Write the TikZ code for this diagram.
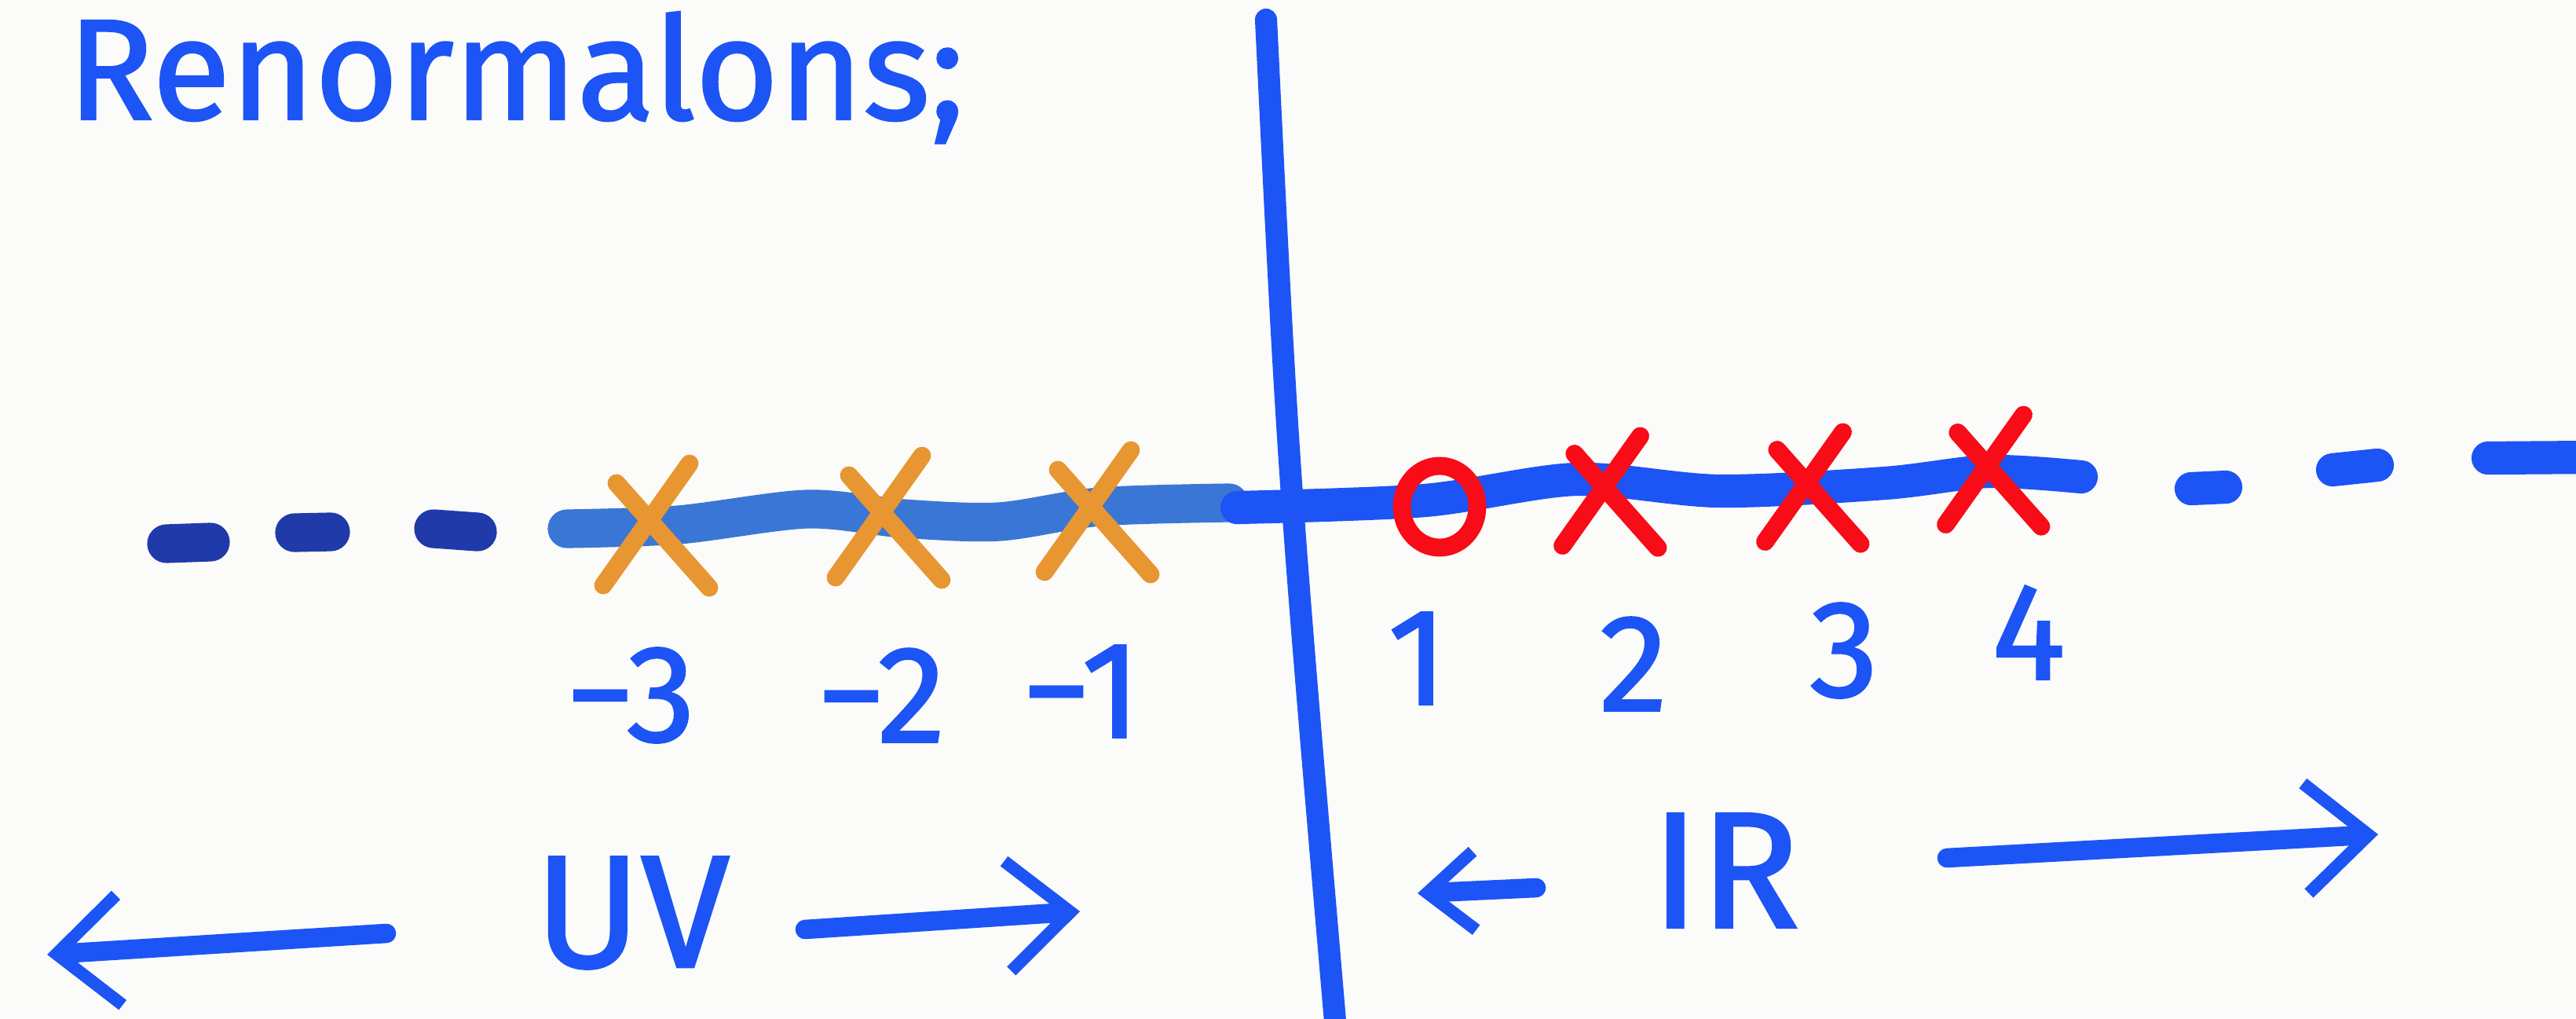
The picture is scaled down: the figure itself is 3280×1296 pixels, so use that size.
\documentclass[tikz,border=0pt]{standalone}
\usepackage{fontspec}
\setmainfont{Fira Sans}
\newfontfamily\handfont{Fira Sans}[FakeBold=1.3]
\usetikzlibrary{arrows.meta}
\definecolor{inkblue}{RGB}{28,84,245}
\definecolor{inknavy}{RGB}{32,58,170}
\definecolor{inklight}{RGB}{58,118,214}
\definecolor{inkorange}{RGB}{232,150,50}
\definecolor{inkred}{RGB}{248,12,24}
\definecolor{paper}{RGB}{251,251,249}
\tikzset{
  hand/.style={inkblue,inner sep=0pt,font=\handfont\fontsize{50}{58}\selectfont},
  arr/.style={inkblue,line width=7pt,line cap=round,
    -{Straight Barb[length=8mm,width=14mm,line width=4.5pt]}},
  pole/.pic={
    \draw[line width=6.5pt,line cap=round] (55,-80) -- (-55,75);
    \draw[line width=6.5pt,line cap=round] (-38,-55) -- (80,78);
  }
}

\begin{document}
\begin{tikzpicture}[x=0.01cm,y=-0.01cm]
  \fill[paper] (0,0) rectangle (3280,1296);
  \useasboundingbox (0,0) rectangle (3280,1296);
  % Title
  \node[hand,font=\handfont\fontsize{52}{60}\selectfont,anchor=base west] (title) at (85,152) {Renormalons;};
  % Vertical line
  \draw[inkblue,line width=8pt,line cap=round] (1612,25) .. controls (1640,600) .. (1700,1300);
  % Real axis, UV side
  \draw[inknavy,line width=14pt,line cap=round] (212,692) -- (268,690) (375,678) -- (421,677) (552,673) -- (608,677);
  \draw[inklight,line width=14pt,line cap=round] plot[smooth] coordinates {(722,673) (864,668) (1028,648) (1150,660) (1272,664) (1400,645) (1565,640)};
  % Real axis, IR side
  \draw[inkblue,line width=12pt,line cap=round] plot[smooth] coordinates {(1575,646) (1814,637) (2007,610) (2189,625) (2400,615) (2532,600) (2650,607)};
  \draw[inkblue,line width=12pt,line cap=round] (2790,622) -- (2834,620) (2970,598) -- (3027,592) (3168,583) -- (3300,582);
  % UV renormalons
  \pic[inkorange] at (823,670) {pole};
  \pic[inkorange] at (1119,660) {pole};
  \pic[inkorange] at (1385,653) {pole};
  % IR renormalons
  \draw[inkred,line width=6.5pt] (1833,645) ellipse [x radius=48,y radius=52];
  \pic[inkred,scale=0.9] at (2039,627) {pole};
  \pic[inkred,scale=0.9] at (2297,622) {pole};
  \pic[inkred,scale=0.9] at (2527,600) {pole};
  % Labels
  \node[hand] (m3) at (803,885) {−3};
  \node[hand] (m2) at (1122,885) {−2};
  \node[hand] (m1) at (1377,880) {−1};
  \node[hand] (p1) at (1805,838) {1};
  \node[hand] (p2) at (2080,845) {2};
  \node[hand] (p3) at (2348,828) {3};
  \node[hand] (p4) at (2583,805) {4};
  % UV and IR
  \node[hand,font=\handfont\fontsize{58}{64}\selectfont] (uv) at (805,1162) {UV};
  \node[hand,font=\handfont\fontsize{60}{66}\selectfont] (ir) at (2197,1108) {IR};
  \coordinate (uvls) at (492,1188);
  \coordinate (uvle) at (60,1215);
  \coordinate (uvrs) at (1025,1183);
  \coordinate (uvre) at (1375,1160);
  \coordinate (irls) at (1956,1130);
  \coordinate (irle) at (1805,1137);
  \coordinate (irrs) at (2479,1092);
  \coordinate (irre) at (3028,1062);
  \draw[arr] (uvls) -- (uvle);
  \draw[arr] (uvrs) -- (uvre);
  \draw[arr,-{Straight Barb[length=6mm,width=10mm,line width=4.5pt]}] (irls) -- (irle);
  \draw[arr] (irrs) -- (irre);
\end{tikzpicture}
\end{document}
